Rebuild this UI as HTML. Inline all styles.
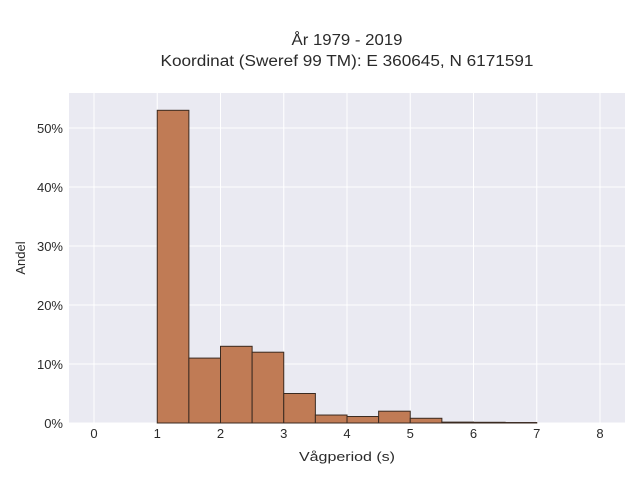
<!DOCTYPE html>
<html><head><meta charset="utf-8"><style>
body{margin:0;background:#fff;font-family:"Liberation Sans",sans-serif;}
svg text{font-family:"Liberation Sans",sans-serif;fill:#2a2a2a;}
</style></head><body>
<svg width="640" height="480">
<text x="347" y="45" text-anchor="middle" font-size="15.5" textLength="111" lengthAdjust="spacingAndGlyphs">År 1979 - 2019</text>
<text x="347" y="66" text-anchor="middle" font-size="15.5" textLength="373" lengthAdjust="spacingAndGlyphs">Koordinat (Sweref 99 TM): E 360645, N 6171591</text>
<rect x="69" y="93" width="556" height="330" fill="#eaeaf2"/>
<g id="grid"></g><g id="bars"></g><g id="ticks"></g>
<text x="347" y="461" text-anchor="middle" font-size="13" textLength="96" lengthAdjust="spacingAndGlyphs">Vågperiod (s)</text>
<text transform="translate(25,258) rotate(-90)" text-anchor="middle" font-size="13">Andel</text>
</svg>
<script>
const binStarts=[1,1.5,2,2.5,3,3.5,4,4.5,5,5.5,6,6.5];
const shares=[53,11,13,12,5,1.35,1.1,2.0,0.8,0.15,0.12,0.08];
const binWidth=0.5;
const xTicks=[0,1,2,3,4,5,6,7,8];
const yTicks=[0,10,20,30,40,50];
const X=v=>94+v*63.25, Y=v=>423-v*5.9;
const ns="http://www.w3.org/2000/svg";
const g=document.getElementById('grid'),b=document.getElementById('bars'),t=document.getElementById('ticks');
function mk(tag,a,p){const e=document.createElementNS(ns,tag);for(const k in a)e.setAttribute(k,a[k]);p.appendChild(e);return e;}
xTicks.forEach(v=>{const l=mk('line',{x1:X(v),x2:X(v),y1:93,y2:423,stroke:'#fff','stroke-width':1},g);


const tx=mk('text',{x:X(v),y:438,'text-anchor':'middle','font-size':13},t);tx.textContent=v;

});
yTicks.forEach(v=>{const l=mk('line',{x1:69,x2:625,y1:Y(v),y2:Y(v),stroke:'#fff','stroke-width':1},g);


const tx=mk('text',{x:63,y:Y(v)+5,'text-anchor':'end','font-size':13},t);tx.textContent=v+'%';

});
binStarts.forEach((s,i)=>{const r=mk('rect',{x:X(s),y:Y(shares[i]),width:X(s+binWidth)-X(s),height:Y(0)-Y(shares[i]),fill:'#c07b55',stroke:'#3a2a20','stroke-width':1},b);

});
</script>
</body></html>
